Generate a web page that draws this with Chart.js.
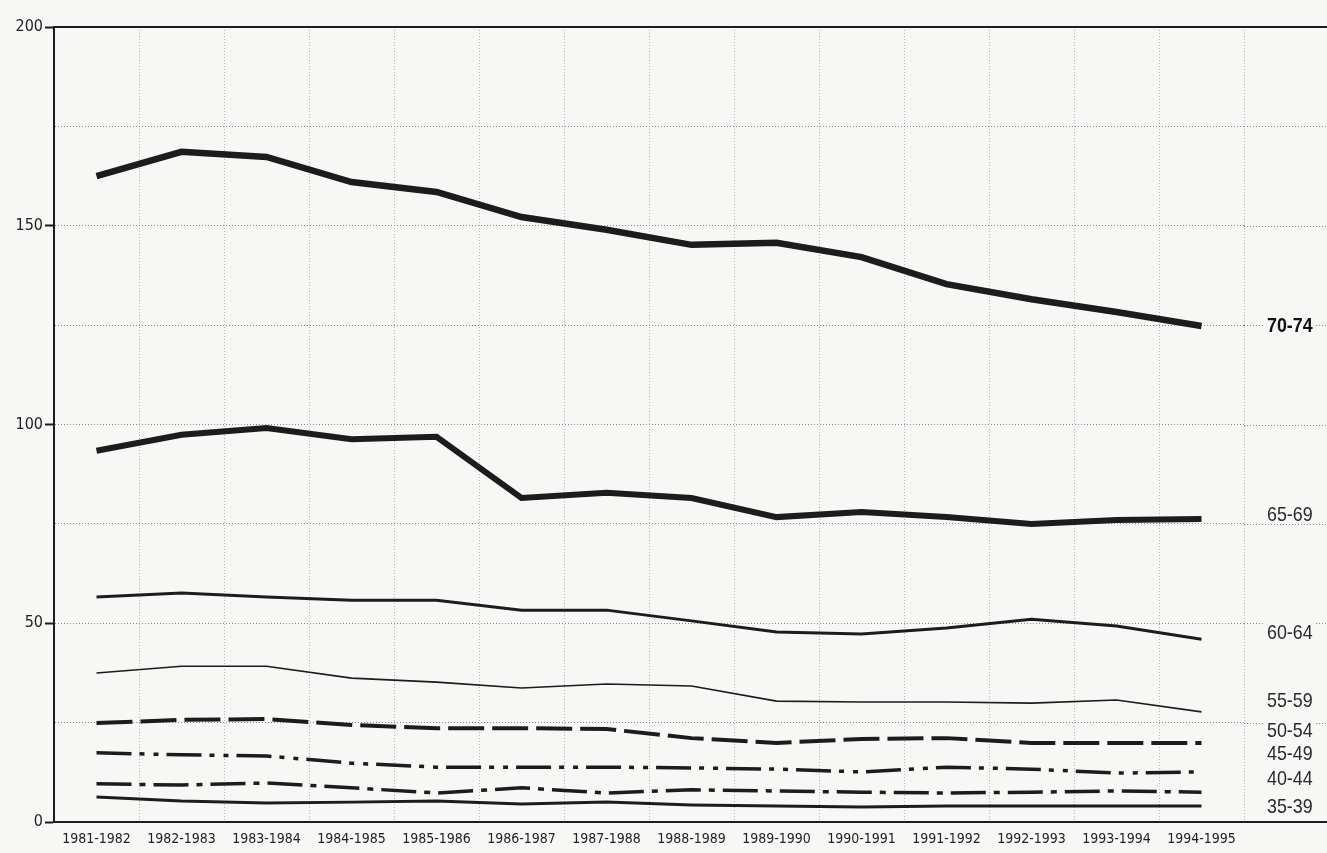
<!DOCTYPE html>
<html>
<head>
<meta charset="utf-8">
<script src="https://cdn.jsdelivr.net/npm/chart.js@4.4.1/dist/chart.umd.min.js"></script>
<style>
  html, body { margin: 0; padding: 0; background: #f7f7f5; }
  #wrap { width: 1327px; height: 853px; position: relative; }
</style>
</head>
<body>
<div id="wrap"><canvas id="chart"></canvas></div>
<script>
const periods = ['1981-1982', '1982-1983', '1983-1984', '1984-1985', '1985-1986', '1986-1987', '1987-1988',
                 '1988-1989', '1989-1990', '1990-1991', '1991-1992', '1992-1993', '1993-1994', '1994-1995'];

const age7074 = [162.5, 168.6, 167.3, 161, 158.5, 152.2, 149, 145.2, 145.7, 142.1, 135.3, 131.5, 128.3, 124.8];
const age6569 = [93.4, 97.4, 99.1, 96.3, 96.9, 81.5, 82.8, 81.5, 76.7, 78, 76.7, 75, 76, 76.2];
const age6064 = [56.6, 57.6, 56.6, 55.8, 55.8, 53.3, 53.3, 50.6, 47.8, 47.3, 48.8, 51, 49.3, 46];
const age5559 = [37.5, 39.2, 39.2, 36.2, 35.2, 33.7, 34.7, 34.2, 30.4, 30.2, 30.2, 29.9, 30.7, 27.7];
const age5054 = [24.9, 25.7, 25.9, 24.4, 23.6, 23.6, 23.4, 21.1, 19.9, 20.9, 21.1, 19.9, 19.9, 19.9];
const age4549 = [17.4, 16.9, 16.6, 14.8, 13.8, 13.8, 13.8, 13.6, 13.3, 12.6, 13.8, 13.3, 12.3, 12.6];
const age4044 = [9.6, 9.3, 9.8, 8.6, 7.3, 8.6, 7.3, 8.1, 7.8, 7.5, 7.3, 7.5, 7.8, 7.5];
const age3539 = [6.3, 5.3, 4.8, 5.0, 5.3, 4.5, 5.0, 4.3, 4.0, 3.8, 4.0, 4.0, 4.0, 4.0];

const yTicks = [0, 50, 100, 150, 200];
// where the right-hand age labels sit, in axis units
const labelAt = [125, 77.5, 47.8, 30.7, 23.1, 17.4, 11.1, 4.0];

const ink = '#1c1c1c';
const condensed = '"Liberation Sans Narrow", "DejaVu Sans Condensed", "Liberation Sans", sans-serif';

function series(label, data, width, dash) {
    return {
        label: label,
        data: data,
        borderColor: ink,
        borderWidth: width,
        borderDash: dash || [],
        pointRadius: 0,
        tension: 0,
        fill: false
    };
}

const datasets = [
    series('70-74', age7074, 6.5),
    series('65-69', age6569, 6),
    series('60-64', age6064, 3),
    series('55-59', age5559, 1.6),
    series('50-54', age5054, 4, [36, 8]),
    series('45-49', age4549, 3.5, [35, 8, 5, 9, 5, 8]),
    series('40-44', age4044, 3.5, [35, 8, 6, 8]),
    series('35-39', age3539, 3)
];

const frame = {
    id: 'frame',
    beforeDraw(chart) {
        const c = chart.ctx;
        c.save();
        c.fillStyle = '#f7f7f5';
        c.fillRect(0, 0, chart.width, chart.height);
        c.restore();
    },
    afterDraw(chart) {
        const c = chart.ctx;
        const a = chart.chartArea;
        const y = chart.scales.y;
        c.save();
        // dotted grid continues past the plot
        c.strokeStyle = '#8a8a8a';
        c.lineWidth = 1;
        c.setLineDash([1, 2]);
        for (let v = 25; v < 200; v += 25) {
            const py = Math.round(y.getPixelForValue(v)) + 0.5;
            c.beginPath();
            c.moveTo(a.right, py);
            c.lineTo(chart.width, py);
            c.stroke();
        }
        c.setLineDash([]);
        // top and bottom rules run to the edge
        c.strokeStyle = ink;
        c.lineWidth = 2;
        c.beginPath();
        c.moveTo(a.left, a.top);
        c.lineTo(chart.width, a.top);
        c.moveTo(a.left, a.bottom);
        c.lineTo(chart.width, a.bottom);
        c.stroke();
        // age group labels, narrowed by hand
        c.textBaseline = 'middle';
        c.textAlign = 'left';
        chart.data.datasets.forEach((ds, i) => {
            const py = y.getPixelForValue(labelAt[i]);
            c.font = (i === 0 ? 'bold ' : '') + '21px "Liberation Sans", Arial, sans-serif';
            const w = c.measureText(ds.label).width * 0.85;
            c.fillStyle = '#f7f7f5';
            c.fillRect(1265, py - 9, w + 4, 18);
            c.save();
            c.translate(1267, py + 1);
            c.scale(0.85, 1);
            c.fillStyle = i === 0 ? '#111' : '#2a2a2a';
            c.fillText(ds.label, 0, 0);
            c.restore();
        });
        c.restore();
    }
};

new Chart(document.getElementById('chart'), {
    type: 'line',
    data: { labels: periods, datasets: datasets },
    plugins: [frame],
    options: {
        responsive: true,
        maintainAspectRatio: false,
        animation: false,
        layout: { padding: { top: 27, right: 83, bottom: 0, left: 0 } },
        plugins: {
            legend: { display: false },
            tooltip: { enabled: false }
        },
        scales: {
            x: {
                offset: true,
                grid: {
                    offset: true,
                    drawTicks: false,
                    color: '#b4b4b4',
                    lineWidth: 1
                },
                border: { display: true, color: ink, width: 2, dash: [1, 2] },
                ticks: {
                    color: '#222',
                    font: { family: condensed, size: 14 },
                    padding: 9,
                    maxRotation: 0,
                    autoSkip: false
                },
                afterFit: s => { s.height = 31; }
            },
            y: {
                min: 0,
                max: 200,
                grid: {
                    color: '#8a8a8a',
                    lineWidth: 1,
                    drawTicks: true,
                    tickLength: 9,
                    tickColor: ctx => (ctx.tick && ctx.tick.value % 50 === 0) ? ink : 'rgba(0,0,0,0)',
                    tickWidth: 2
                },
                border: { display: true, color: ink, width: 2, dash: [1, 2] },
                ticks: {
                    stepSize: 25,
                    color: '#222',
                    font: { family: condensed, size: 16 },
                    padding: 2,
                    callback: v => yTicks.includes(v) ? String(v) : ''
                },
                afterFit: s => { s.width = 54; }
            }
        }
    }
});
</script>
</body>
</html>
